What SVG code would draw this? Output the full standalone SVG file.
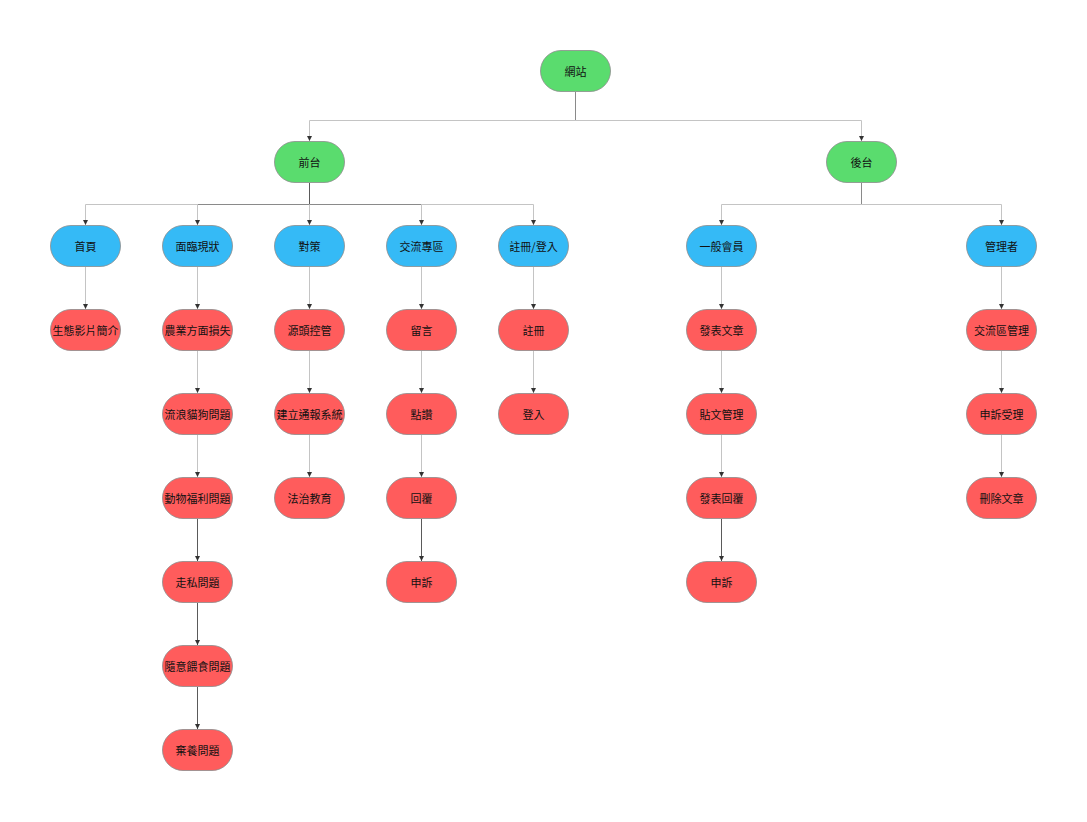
<svg xmlns="http://www.w3.org/2000/svg" width="1087" height="822" viewBox="0 0 1087 822">
  <style>
    .node { stroke: #8c8c8c; stroke-width: 0.8; }
    .green { fill: #5adc6e; }
    .blue { fill: #35baf6; }
    .red { fill: #ff5c5c; }
    .label { font-family: "Noto Sans CJK TC", "Noto Sans CJK SC", "Liberation Sans", sans-serif; font-size: 11px; fill: #111; text-anchor: middle; dominant-baseline: central; }
    .edge { fill: none; stroke: #c4c4c4; stroke-width: 1; }
    .edge.mid { stroke: #8a8a8a; }
    .edge.dark { stroke: #5a5a5a; }
  </style>
  <defs>
    <marker id="arrow" viewBox="0 0 6 6" refX="6" refY="3" markerWidth="5" markerHeight="5" markerUnits="userSpaceOnUse" orient="auto">
      <path d="M0,0 L6,3 L0,6 z" fill="#333"/>
    </marker>
  </defs>
  <rect width="1087" height="822" fill="#ffffff"/>

  <!-- connectors -->
  <g id="connectors">
    <!-- root to front / back -->
    <path class="edge mid" d="M575.5,92 V120.5"/>
    <path class="edge" d="M575.5,120.5 H309.5 V141" marker-end="url(#arrow)"/>
    <path class="edge" d="M575.5,120.5 H861.5 V141" marker-end="url(#arrow)"/>

    <!-- front-end trunk -->
    <path class="edge dark" d="M309.5,183 V204.5"/>
    <path class="edge mid" d="M197.5,204.5 H421.5"/>
    <path class="edge" d="M197.5,204.5 H85.5 V225" marker-end="url(#arrow)"/>
    <path class="edge" d="M197.5,204.5 V225" marker-end="url(#arrow)"/>
    <path class="edge" d="M309.5,204.5 V225" marker-end="url(#arrow)"/>
    <path class="edge" d="M421.5,204.5 V225" marker-end="url(#arrow)"/>
    <path class="edge" d="M421.5,204.5 H533.5 V225" marker-end="url(#arrow)"/>

    <!-- back-end trunk -->
    <path class="edge mid" d="M861.5,183 V204.5"/>
    <path class="edge" d="M861.5,204.5 H721.5 V225" marker-end="url(#arrow)"/>
    <path class="edge" d="M861.5,204.5 H1001.5 V225" marker-end="url(#arrow)"/>

    <!-- column chains -->
    <path class="edge" d="M85.5,267 V309" marker-end="url(#arrow)"/>

    <path class="edge" d="M197.5,267 V309" marker-end="url(#arrow)"/>
    <path class="edge" d="M197.5,351 V393" marker-end="url(#arrow)"/>
    <path class="edge" d="M197.5,435 V477" marker-end="url(#arrow)"/>
    <path class="edge dark" d="M197.5,519 V561" marker-end="url(#arrow)"/>
    <path class="edge dark" d="M197.5,603 V645" marker-end="url(#arrow)"/>
    <path class="edge dark" d="M197.5,687 V729" marker-end="url(#arrow)"/>

    <path class="edge" d="M309.5,267 V309" marker-end="url(#arrow)"/>
    <path class="edge" d="M309.5,351 V393" marker-end="url(#arrow)"/>
    <path class="edge" d="M309.5,435 V477" marker-end="url(#arrow)"/>

    <path class="edge" d="M421.5,267 V309" marker-end="url(#arrow)"/>
    <path class="edge" d="M421.5,351 V393" marker-end="url(#arrow)"/>
    <path class="edge" d="M421.5,435 V477" marker-end="url(#arrow)"/>
    <path class="edge dark" d="M421.5,519 V561" marker-end="url(#arrow)"/>

    <path class="edge" d="M533.5,267 V309" marker-end="url(#arrow)"/>
    <path class="edge" d="M533.5,351 V393" marker-end="url(#arrow)"/>

    <path class="edge" d="M721.5,267 V309" marker-end="url(#arrow)"/>
    <path class="edge" d="M721.5,351 V393" marker-end="url(#arrow)"/>
    <path class="edge" d="M721.5,435 V477" marker-end="url(#arrow)"/>
    <path class="edge dark" d="M721.5,519 V561" marker-end="url(#arrow)"/>

    <path class="edge" d="M1001.5,267 V309" marker-end="url(#arrow)"/>
    <path class="edge" d="M1001.5,351 V393" marker-end="url(#arrow)"/>
    <path class="edge" d="M1001.5,435 V477" marker-end="url(#arrow)"/>
  </g>

  <!-- root -->
  <g id="n-site"><rect class="node green" x="540.5" y="50.5" width="70" height="41" rx="20.5"/><text class="label" x="575.5" y="71">網站</text></g>

  <!-- level 1 -->
  <g id="n-front"><rect class="node green" x="274.5" y="141.5" width="70" height="41" rx="20.5"/><text class="label" x="309.5" y="162">前台</text></g>
  <g id="n-back"><rect class="node green" x="826.5" y="141.5" width="70" height="41" rx="20.5"/><text class="label" x="861.5" y="162">後台</text></g>

  <!-- level 2 -->
  <g id="n-home"><rect class="node blue" x="50.5" y="225.5" width="70" height="41" rx="20.5"/><text class="label" x="85.5" y="246">首頁</text></g>
  <g id="n-status"><rect class="node blue" x="162.5" y="225.5" width="70" height="41" rx="20.5"/><text class="label" x="197.5" y="246">面臨現狀</text></g>
  <g id="n-measures"><rect class="node blue" x="274.5" y="225.5" width="70" height="41" rx="20.5"/><text class="label" x="309.5" y="246">對策</text></g>
  <g id="n-forum"><rect class="node blue" x="386.5" y="225.5" width="70" height="41" rx="20.5"/><text class="label" x="421.5" y="246">交流專區</text></g>
  <g id="n-account"><rect class="node blue" x="498.5" y="225.5" width="70" height="41" rx="20.5"/><text class="label" x="533.5" y="246">註冊/登入</text></g>
  <g id="n-member"><rect class="node blue" x="686.5" y="225.5" width="70" height="41" rx="20.5"/><text class="label" x="721.5" y="246">一般會員</text></g>
  <g id="n-admin"><rect class="node blue" x="966.5" y="225.5" width="70" height="41" rx="20.5"/><text class="label" x="1001.5" y="246">管理者</text></g>

  <!-- home -->
  <g id="n-home-1"><rect class="node red" x="50.5" y="309.5" width="70" height="41" rx="20.5"/><text class="label" x="85.5" y="330">生態影片簡介</text></g>

  <!-- current status -->
  <g id="n-status-1"><rect class="node red" x="162.5" y="309.5" width="70" height="41" rx="20.5"/><text class="label" x="197.5" y="330">農業方面損失</text></g>
  <g id="n-status-2"><rect class="node red" x="162.5" y="393.5" width="70" height="41" rx="20.5"/><text class="label" x="197.5" y="414">流浪貓狗問題</text></g>
  <g id="n-status-3"><rect class="node red" x="162.5" y="477.5" width="70" height="41" rx="20.5"/><text class="label" x="197.5" y="498">動物福利問題</text></g>
  <g id="n-status-4"><rect class="node red" x="162.5" y="561.5" width="70" height="41" rx="20.5"/><text class="label" x="197.5" y="582">走私問題</text></g>
  <g id="n-status-5"><rect class="node red" x="162.5" y="645.5" width="70" height="41" rx="20.5"/><text class="label" x="197.5" y="666">隨意餵食問題</text></g>
  <g id="n-status-6"><rect class="node red" x="162.5" y="729.5" width="70" height="41" rx="20.5"/><text class="label" x="197.5" y="750">棄養問題</text></g>

  <!-- measures -->
  <g id="n-measures-1"><rect class="node red" x="274.5" y="309.5" width="70" height="41" rx="20.5"/><text class="label" x="309.5" y="330">源頭控管</text></g>
  <g id="n-measures-2"><rect class="node red" x="274.5" y="393.5" width="70" height="41" rx="20.5"/><text class="label" x="309.5" y="414">建立通報系統</text></g>
  <g id="n-measures-3"><rect class="node red" x="274.5" y="477.5" width="70" height="41" rx="20.5"/><text class="label" x="309.5" y="498">法治教育</text></g>

  <!-- forum -->
  <g id="n-forum-1"><rect class="node red" x="386.5" y="309.5" width="70" height="41" rx="20.5"/><text class="label" x="421.5" y="330">留言</text></g>
  <g id="n-forum-2"><rect class="node red" x="386.5" y="393.5" width="70" height="41" rx="20.5"/><text class="label" x="421.5" y="414">點讚</text></g>
  <g id="n-forum-3"><rect class="node red" x="386.5" y="477.5" width="70" height="41" rx="20.5"/><text class="label" x="421.5" y="498">回覆</text></g>
  <g id="n-forum-4"><rect class="node red" x="386.5" y="561.5" width="70" height="41" rx="20.5"/><text class="label" x="421.5" y="582">申訴</text></g>

  <!-- account -->
  <g id="n-account-1"><rect class="node red" x="498.5" y="309.5" width="70" height="41" rx="20.5"/><text class="label" x="533.5" y="330">註冊</text></g>
  <g id="n-account-2"><rect class="node red" x="498.5" y="393.5" width="70" height="41" rx="20.5"/><text class="label" x="533.5" y="414">登入</text></g>

  <!-- member -->
  <g id="n-member-1"><rect class="node red" x="686.5" y="309.5" width="70" height="41" rx="20.5"/><text class="label" x="721.5" y="330">發表文章</text></g>
  <g id="n-member-2"><rect class="node red" x="686.5" y="393.5" width="70" height="41" rx="20.5"/><text class="label" x="721.5" y="414">貼文管理</text></g>
  <g id="n-member-3"><rect class="node red" x="686.5" y="477.5" width="70" height="41" rx="20.5"/><text class="label" x="721.5" y="498">發表回覆</text></g>
  <g id="n-member-4"><rect class="node red" x="686.5" y="561.5" width="70" height="41" rx="20.5"/><text class="label" x="721.5" y="582">申訴</text></g>

  <!-- admin -->
  <g id="n-admin-1"><rect class="node red" x="966.5" y="309.5" width="70" height="41" rx="20.5"/><text class="label" x="1001.5" y="330">交流區管理</text></g>
  <g id="n-admin-2"><rect class="node red" x="966.5" y="393.5" width="70" height="41" rx="20.5"/><text class="label" x="1001.5" y="414">申訴受理</text></g>
  <g id="n-admin-3"><rect class="node red" x="966.5" y="477.5" width="70" height="41" rx="20.5"/><text class="label" x="1001.5" y="498">刪除文章</text></g>
</svg>
